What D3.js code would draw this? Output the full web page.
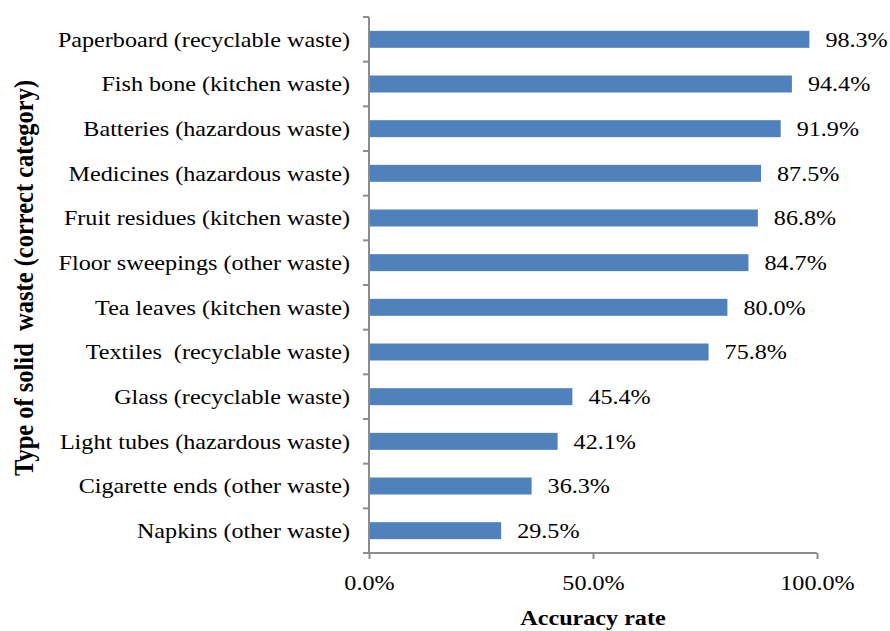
<!DOCTYPE html>
<html>
<head>
<meta charset="utf-8">
<script src="https://cdn.jsdelivr.net/npm/d3@7"></script>
<style>
  body { margin: 0; background: #fff; }
  svg { display: block; font-family: "Liberation Serif", "Times New Roman", serif; }
</style>
</head>
<body>
<svg id="chart" width="890" height="631"></svg>
<script>
const categories = [
  "Paperboard (recyclable waste)",
  "Fish bone (kitchen waste)",
  "Batteries (hazardous waste)",
  "Medicines (hazardous waste)",
  "Fruit residues (kitchen waste)",
  "Floor sweepings (other waste)",
  "Tea leaves (kitchen waste)",
  "Textiles  (recyclable waste)",
  "Glass (recyclable waste)",
  "Light tubes (hazardous waste)",
  "Cigarette ends (other waste)",
  "Napkins (other waste)"
];
const accuracy = [98.3, 94.4, 91.9, 87.5, 86.8, 84.7, 80.0, 75.8, 45.4, 42.1, 36.3, 29.5];
const xTicks = [0, 50, 100];

const svg = d3.select('#chart');
const margin = { top: 17, right: 73, bottom: 78, left: 369 };
const width = 890, height = 631;
const innerH = height - margin.top - margin.bottom;
const axisColor = '#8c8c8c';
const fs = '21px';
const sx = 1.15; // the original text is a little wide

const root = svg.append('g')
  .attr('transform', `translate(${margin.left},${margin.top})`);

const x = d3.scaleLinear().domain([0, 100]).range([0, 448]);
const y = d3.scaleBand().domain(categories).range([0, innerH]).paddingInner(0.62).paddingOuter(0.31);

// bars
root.selectAll('.bar')
  .data(categories)
  .enter()
  .append('rect')
  .attr('class', 'bar')
  .attr('x', 0)
  .attr('y', d => y(d))
  .attr('width', (d, i) => x(accuracy[i]))
  .attr('height', y.bandwidth())
  .attr('fill', '#4f81bd');

// value labels
root.selectAll('.val')
  .data(categories)
  .enter()
  .append('text')
  .attr('transform', (d, i) => `translate(${x(accuracy[i]) + 16},${y(d) + y.bandwidth() / 2}) scale(${sx},1)`)
  .attr('dy', '0.35em')
  .style('font-size', fs)
  .style('fill', '#000')
  .text((d, i) => accuracy[i].toFixed(1) + '%');

// x axis
const xAxis = root.append('g')
  .attr('transform', `translate(0,${innerH})`)
  .call(d3.axisBottom(x).tickValues(xTicks).tickSize(6).tickFormat(d => d.toFixed(1) + '%'));
xAxis.attr('font-family', null).attr('font-size', null);
xAxis.selectAll('text')
  .attr('y', 37)
  .attr('dy', null)
  .attr('transform', `scale(${sx},1)`)
  .style('font-size', fs)
  .style('fill', '#000');
xAxis.selectAll('line, path').attr('stroke', axisColor).attr('stroke-width', 2);
xAxis.select('.domain').attr('d', `M0,0H${x(100)}`);

// y axis with ticks between categories
const yBounds = d3.range(categories.length + 1).map(i => i * innerH / categories.length);
const yAxis = root.append('g');
yAxis.append('line')
  .attr('x1', 0).attr('x2', 0).attr('y1', 0).attr('y2', innerH)
  .attr('stroke', axisColor).attr('stroke-width', 2);
yAxis.selectAll('.tick')
  .data(yBounds)
  .enter()
  .append('line')
  .attr('x1', -6).attr('x2', 0)
  .attr('y1', d => d).attr('y2', d => d)
  .attr('stroke', axisColor).attr('stroke-width', 2);
yAxis.selectAll('.lab')
  .data(categories)
  .enter()
  .append('text')
  .attr('transform', d => `translate(-19,${y(d) + y.bandwidth() / 2}) scale(${sx},1)`)
  .attr('dy', '0.35em')
  .attr('text-anchor', 'end')
  .style('font-size', fs)
  .style('fill', '#000')
  .style('white-space', 'pre')
  .text(d => d);

// axis titles
svg.append('text')
  .attr('transform', `translate(${margin.left + x(50)},625) scale(${sx},1)`)
  .attr('text-anchor', 'middle')
  .style('font-size', fs)
  .style('font-weight', 'bold')
  .text('Accuracy rate');

svg.append('text')
  .attr('transform', 'translate(33,278) rotate(-90) scale(1,1.15)')
  .attr('text-anchor', 'middle')
  .style('font-size', '24.5px')
  .style('font-weight', 'bold')
  .style('white-space', 'pre')
  .text('Type of solid  waste (correct category)');
</script>
</body>
</html>
